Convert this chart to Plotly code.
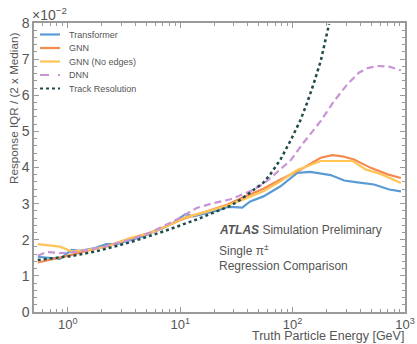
import plotly.graph_objects as go

# ---------------- data (values in units of 1e-2) ----------------
transformer_e = [0.54, 0.68, 0.85, 1.08, 1.28, 1.7, 2.2, 2.72, 3.58, 4.5, 5.4, 7.0, 8.6, 11.1, 13.1,
                 17.3, 22, 26, 28, 35.6, 42, 55, 78, 110, 144, 218, 288, 377, 530, 724, 920]
transformer_v = [1.53, 1.50, 1.47, 1.72, 1.69, 1.76, 1.88, 1.88, 1.98, 2.08, 2.18, 2.32, 2.46, 2.71, 2.65,
                 2.74, 2.82, 2.90, 2.91, 2.89, 3.06, 3.20, 3.48, 3.85, 3.88, 3.79, 3.64, 3.59, 3.53, 3.39, 3.34]

gnn_e = [0.54, 0.85, 1.08, 1.5, 2.2, 3.58, 5.4, 8.6, 11.1, 17.3, 26, 35.6, 55, 78, 117, 178,
         225, 277, 352, 495, 700, 920]
gnn_v = [1.37, 1.50, 1.58, 1.70, 1.82, 2.03, 2.19, 2.45, 2.60, 2.79, 2.97, 3.16, 3.41, 3.67, 3.94, 4.27,
         4.34, 4.31, 4.22, 3.99, 3.81, 3.71]

noedge_e = [0.54, 0.85, 1.08, 1.5, 2.2, 3.58, 5.4, 8.6, 11.1, 17.3, 26, 35.6, 55, 78, 110, 178,
            218, 290, 343, 449, 570, 700, 920]
noedge_v = [1.88, 1.81, 1.68, 1.72, 1.80, 2.05, 2.19, 2.45, 2.62, 2.78, 2.95, 3.10, 3.34, 3.62, 3.93, 4.18,
            4.18, 4.18, 4.18, 3.94, 3.85, 3.74, 3.57]

dnn_e = [0.54, 0.65, 0.85, 1.08, 1.5, 2.2, 3.58, 5.4, 8.6, 14, 20, 28, 42, 55, 63.6, 96, 126, 178,
         234, 308, 391, 465, 570, 724, 920]
dnn_v = [1.56, 1.66, 1.63, 1.65, 1.72, 1.82, 2.00, 2.20, 2.50, 2.88, 3.02, 3.12, 3.34, 3.55, 3.71, 4.20,
         4.70, 5.29, 5.84, 6.31, 6.63, 6.75, 6.81, 6.79, 6.69]

track_e = [0.54, 1.08, 1.8, 3.58, 7.1, 14, 28, 34, 55, 63.6, 78, 96, 117, 135, 155, 178, 211]
track_v = [1.44, 1.55, 1.68, 1.93, 2.23, 2.56, 2.94, 3.10, 3.58, 3.82, 4.22, 4.75, 5.30, 5.80, 6.35, 6.95, 7.97]

names = ["Transformer", "GNN", "GNN (No edges)", "DNN", "Track Resolution"]
colors = ["#5b9bd5", "#f58a4f", "#ffc356", "#c994d6", "#1f4a4a"]
dashes = ["solid", "solid", "solid", "7px,4px", "dot"]

series = [(transformer_e, transformer_v), (gnn_e, gnn_v), (noedge_e, noedge_v),
          (dnn_e, dnn_v), (track_e, track_v)]

xtick_vals = [1, 10, 100, 1000]
xtick_text = ["10<sup>0</sup>", "10<sup>1</sup>", "10<sup>2</sup>", "10<sup>3</sup>"]
ytick_vals = [0, 1, 2, 3, 4, 5, 6, 7, 8]

FONT = "Liberation Sans, Arial, sans-serif"
GREY = "#555555"
AXC = "#9a9a9a"

fig = go.Figure()
for (xs, ys), n, c, d in zip(series, names, colors, dashes):
    fig.add_trace(go.Scatter(x=xs, y=ys, mode="lines", name=n, showlegend=False,
                             line=dict(color=c, width=2.2 if d != "dot" else 2.5, dash=d)))

W, H = 417, 344
L, R, T, B = 34, 12, 23, 32
pw, ph = W - L - R, H - T - B

def px(xp):
    return (xp - L) / pw

def py(yp):
    return (H - B - yp) / ph

minor_x = [m * 10 ** n for n in range(-1, 3) for m in range(2, 10) if 0.5 <= m * 10 ** n <= 1000]

fig.update_layout(
    width=W, height=H, autosize=False,
    margin=dict(l=L, r=R, t=T, b=B, pad=0, autoexpand=False),
    paper_bgcolor="white", plot_bgcolor="white",
    font=dict(family=FONT, color=GREY),
    xaxis=dict(type="log", range=[-0.301, 3.0], tickmode="array", tickvals=xtick_vals,
               ticktext=xtick_text, ticks="inside", ticklen=5, tickcolor=AXC, tickwidth=1.2,
               showline=True, linecolor=AXC, linewidth=1.5, mirror="allticks", showgrid=False,
               zeroline=False, automargin=False, tickfont=dict(size=13, color=GREY),
               minor=dict(tickmode="array", tickvals=minor_x, ticks="inside", ticklen=3,
                          tickcolor=AXC, tickwidth=1.2, showgrid=False)),
    yaxis=dict(range=[0, 8], tickmode="array", tickvals=ytick_vals, ticks="inside", ticklen=5,
               tickcolor=AXC, tickwidth=1.2, showline=True, linecolor=AXC, linewidth=1.5,
               mirror="allticks", showgrid=False, zeroline=False, automargin=False,
               tickfont=dict(size=14, color=GREY),
               minor=dict(dtick=0.2, ticks="inside", ticklen=3, tickcolor=AXC, tickwidth=1.2,
                          showgrid=False)),
)

ann = []
shapes = []
# axis titles
ann.append(dict(text="Response IQR / (2 x Median)", xref="paper", yref="paper", x=px(13), y=py(109),
                xanchor="center", yanchor="middle", textangle=-90, showarrow=False,
                font=dict(size=11.7, color=GREY)))
ann.append(dict(text="Truth Particle Energy [GeV]", xref="paper", yref="paper", x=1, y=0,
                xanchor="right", yanchor="bottom", yshift=-32, showarrow=False, borderpad=0,
                font=dict(size=12.5, color=GREY)))
ann.append(dict(text="×10<sup>−2</sup>", xref="paper", yref="paper", x=0, y=1,
                xanchor="left", yanchor="bottom", xshift=-4, yshift=-2, showarrow=False,
                font=dict(size=14, color=GREY)))
# ATLAS label
ann.append(dict(text="<b><i>ATLAS</i></b> Simulation Preliminary", xref="paper", yref="paper",
                x=px(217), y=py(230), xanchor="left", yanchor="middle", showarrow=False,
                font=dict(size=12, color=GREY)))
ann.append(dict(text="Single π<sup>±</sup>", xref="paper", yref="paper",
                x=px(217), y=py(250), xanchor="left", yanchor="middle", showarrow=False,
                font=dict(size=12, color=GREY)))
ann.append(dict(text="Regression Comparison", xref="paper", yref="paper",
                x=px(217), y=py(266), xanchor="left", yanchor="middle", showarrow=False,
                font=dict(size=12, color=GREY)))

# custom compact legend
rows = [34.5, 48, 61.5, 75, 88.5]
for n, c, d, r in zip(names, colors, dashes, rows):
    dd = "dot" if d == "dot" else ("dash" if d != "solid" else "solid")
    shapes.append(dict(type="line", xref="paper", yref="paper", x0=px(40), x1=px(60),
                       y0=py(r), y1=py(r), line=dict(color=c, width=2.2, dash=dd)))
    ann.append(dict(text=n, xref="paper", yref="paper", x=px(67), y=py(r), xanchor="left",
                    yanchor="middle", showarrow=False, font=dict(size=9, color=GREY)))

fig.update_layout(annotations=ann, shapes=shapes)
fig.write_html("out.html")
